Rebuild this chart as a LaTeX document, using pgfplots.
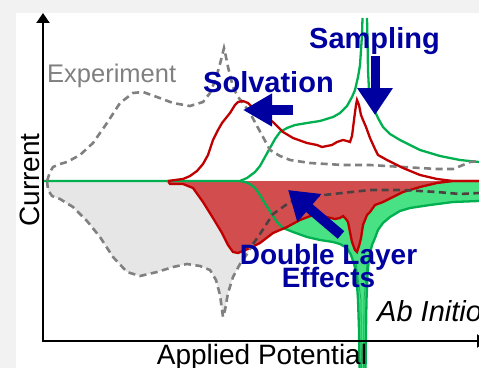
\documentclass[border=0pt]{standalone}
\usepackage{fontspec}
\setmainfont{Liberation Sans}
\usepackage{pgfplots}
\pgfplotsset{compat=1.18}
\usetikzlibrary{arrows.meta}
\definecolor{bggray}{HTML}{F2F2F2}
\definecolor{expfill}{HTML}{E6E6E6}
\definecolor{expline}{HTML}{808080}
\definecolor{expdark}{HTML}{4D4040}
\definecolor{redline}{HTML}{C00000}
\definecolor{redfill}{HTML}{D24E4E}
\definecolor{greenline}{HTML}{00B050}
\definecolor{greenfill}{HTML}{48E184}
\definecolor{dblue}{HTML}{0000A0}
\begin{document}
\begin{tikzpicture}
\useasboundingbox (0,0) rectangle (479bp,368bp);
\clip (0,0) rectangle (479bp,368bp);
\begin{axis}[at={(0,0)}, anchor=south west, scale only axis,
  width=479bp, height=368bp, xmin=0, xmax=479, ymin=0, ymax=368,
  y dir=reverse, hide axis]
% background
\fill[bggray] (axis cs:0,0) rectangle (axis cs:479,368);
\fill[white] (axis cs:16,13) rectangle (axis cs:479,368);
% experiment lower fill
\addplot[fill=expfill, draw=none] coordinates {
(47,181) (48,190) (52,196) (60,199) (73,207) (87,221) (100,237) (113,257) (127,272) (140,276) (157,272) (173,267) (187,264) (200,266) (210,270) (216,280) (220,295) (223,317) (225,310) (228,293) (233,277) (240,264) (247,254) (260,234) (273,214) (290,202) (307,197) (333,194) (370,190) (403,190) (437,192) (460,194) (479,193) (479,181)};
% green lower fill
\addplot[fill=greenfill, draw=none] coordinates {
(240,181) (245,182) (250,184) (255,188) (260,195) (264,202) (268,208) (273,216) (277,222) (283,228) (293,232) (307,237) (320,240) (333,242) (340,244) (347,248) (351,255) (354,264) (356,272) (357,285) (358,300) (359,330) (359.5,372)
(365.5,372) (366,330) (366.5,300) (367.5,275) (369,258) (372,245) (375,238) (378,230) (383,223) (390,217) (400,211) (410,208) (430,205) (453,202) (479,201) (479,181)};
% red lower fill
\addplot[fill=redfill, draw=redline, line width=1bp] coordinates {
(168,181) (170,184) (183,184) (193,188) (203,202) (213,218) (222,233) (228,245) (233,252) (238,253) (250,248) (260,243) (273,233) (287,227) (300,220) (313,215) (320,216) (327,217) (335,219) (340,218) (343,216) (346,219) (348,222) (350,232) (352,242) (355,250) (357,252) (359,246) (361,238) (363,225) (367,215) (370,212) (375,205) (383,202) (393,197) (403,192) (420,187) (437,183) (453,181) (479,181)};
% green lower lines
\addplot[greenline, line width=2.3bp] coordinates {
(240,181) (245,182) (250,184) (255,188) (260,195) (264,202) (268,208) (273,216) (277,222) (283,228) (293,232) (307,237) (320,240) (333,242) (340,244) (347,248) (351,255) (354,264) (356,272) (357,285) (358,300) (359,330) (359.5,372)};
\addplot[greenline, line width=2.3bp] coordinates {
(365.5,372) (366,330) (366.5,300) (367.5,275) (369,258) (372,245) (375,238) (378,230) (383,223) (390,217) (400,211) (410,208) (430,205) (453,202) (479,201)};
\addplot[greenline!80!black, line width=0.8bp, opacity=0.6] coordinates {(356,262) (361,300) (361.5,372)};
\addplot[greenline!80!black, line width=0.8bp, opacity=0.6] coordinates {(367,262) (364,300) (363.5,372)};
% red lower line
\addplot[redline, line width=2.3bp] coordinates {
(168,181) (170,184) (183,184) (193,188) (203,202) (213,218) (222,233) (228,245) (233,252) (238,253) (250,248) (260,243) (273,233) (287,227) (300,220) (313,215) (320,216) (327,217) (335,219) (340,218) (343,216) (346,219) (348,222) (350,232) (352,242) (355,250) (357,252) (359,246) (361,238) (363,225) (367,215) (370,212) (375,205) (383,202) (393,197) (403,192) (420,187) (437,183) (453,181) (479,181)};
% experiment lower dashed
\addplot[expline, line width=2.6bp, dash pattern=on 7bp off 4.5bp] coordinates {
(47,181) (48,190) (52,196) (60,199) (73,207) (87,221) (100,237) (113,257) (127,272) (140,276) (157,272) (173,267) (187,264) (200,266) (210,270) (216,280) (220,295) (223,317) (225,310) (228,293) (233,277) (240,264) (247,254) (253,244)};
\addplot[expdark, line width=2.6bp, dash pattern=on 7bp off 4.5bp] coordinates {
(253,244) (260,234) (273,214) (290,202) (307,197) (333,194) (370,190) (403,190) (437,192) (460,194) (479,193)};
% green upper
\addplot[greenline, line width=2.3bp] coordinates {
(43,181) (240,181) (247,178) (255,172) (260,166) (265,157) (270,148) (275,139) (280,132) (287,128) (295,125) (307,123) (320,121) (333,117) (340,113) (347,106) (352,97) (355,90) (358,77) (360,65) (361,50) (362,35) (362.5,18)};
\addplot[greenline, line width=2.3bp] coordinates {
(367,18) (367.5,40) (368,70) (369,90) (371,100) (373,107) (378,118) (383,127) (390,134) (400,140) (420,150) (440,156) (460,160) (479,162)};
% experiment upper dashed
\addplot[expline, line width=2.6bp, dash pattern=on 7bp off 4.5bp] coordinates {
(47,181) (50,172) (53,167) (60,164) (67,162) (80,155) (93,143) (107,123) (120,103) (133,93) (143,92) (157,97) (173,103) (190,106) (203,102) (210,93) (216,78) (220,64) (223,52) (224,48) (225,52) (228,67) (233,87) (238,97) (243,103) (250,113) (257,126) (263,137) (270,150) (280,156) (290,160) (310,163) (343,165) (370,165) (403,167) (437,169) (453,169) (463,165) (470,162) (479,161)};
% red upper
\addplot[redline, line width=2.3bp] coordinates {
(168,181) (175,180) (183,179) (190,176) (197,171) (203,164) (208,155) (213,140) (218,130) (222,123) (230,113) (235,105) (238,102) (243,101) (248,103) (255,110) (265,117) (273,122) (283,132) (293,138) (307,143) (317,145) (322,147) (327,146) (332,145) (337,142) (343,140) (347,141) (350,142) (352,136) (354,120) (356,105) (357,100) (359,105) (361,115) (363,120) (366,127) (370,138) (375,149) (378,155) (387,160) (403,168) (420,175) (437,179) (453,181) (479,181)};
% axes
\addplot[black, line width=2bp, -{Triangle[length=10bp,width=13bp]}] coordinates {(43,342) (43,13)};
\addplot[black, line width=2bp, -{Triangle[length=10bp,width=13bp]}] coordinates {(42,341) (487,341)};
% block arrows
\addplot[dblue, line width=10bp, -{Triangle[length=29bp,width=31bp]}] coordinates {(293,110) (243,110)};
\addplot[dblue, line width=9bp, -{Triangle[length=27bp,width=34bp]}] coordinates {(375,56) (375,115)};
\addplot[dblue, line width=10bp, -{Triangle[length=28bp,width=35bp]}] coordinates {(341,235) (288,190)};
% texts
\node[anchor=base west, inner sep=0pt, text=expline, font=\fontsize{25.5bp}{28bp}\selectfont] at (axis cs:47,82) {Experiment};
\node[anchor=base west, inner sep=0pt, text=dblue, font=\fontsize{29bp}{30bp}\selectfont\bfseries] at (axis cs:203,92) {Solvation};
\node[anchor=base, inner sep=0pt, text=dblue, font=\fontsize{29bp}{30bp}\selectfont\bfseries] at (axis cs:374.5,48) {Sampling};
\node[anchor=base, inner sep=0pt, text=dblue, font=\fontsize{28bp}{30bp}\selectfont\bfseries] at (axis cs:328.5,264) {Double Layer};
\node[anchor=base, inner sep=0pt, text=dblue, font=\fontsize{28bp}{30bp}\selectfont\bfseries] at (axis cs:328.5,287) {Effects};
\node[anchor=base west, inner sep=0pt, text=black, font=\fontsize{29bp}{30bp}\selectfont\itshape] at (axis cs:377,321) {Ab Initio};
\node[anchor=base, inner sep=0pt, rotate=90, font=\fontsize{28bp}{30bp}\selectfont] at (axis cs:39,180) {Current};
\node[anchor=base, inner sep=0pt, font=\fontsize{28bp}{30bp}\selectfont] at (axis cs:262,364) {Applied Potential};
\end{axis}
\end{tikzpicture}
\end{document}
